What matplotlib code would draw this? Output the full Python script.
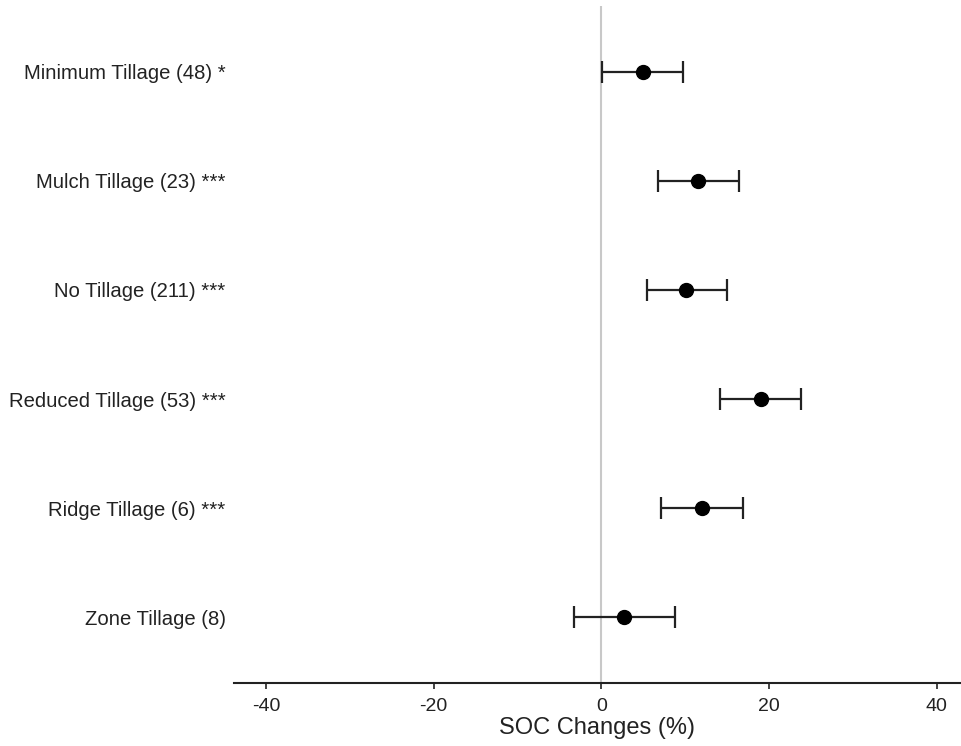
import matplotlib
matplotlib.use("Agg")
import matplotlib.pyplot as plt

plt.rcParams['font.family'] = ['Liberation Sans', 'DejaVu Sans']

# Tillage practices (number of observations and significance)
labels = [
    "Minimum Tillage (48) *",
    "Mulch Tillage (23) ***",
    "No Tillage (211) ***",
    "Reduced Tillage (53) ***",
    "Ridge Tillage (6) ***",
    "Zone Tillage (8)",
]
# Mean SOC change (%) with lower/upper confidence limits
mean = [5.0, 11.5, 10.1, 19.05, 12.0, 2.75]
lower = [0.1, 6.75, 5.45, 14.2, 7.15, -3.3]
upper = [9.8, 16.4, 14.95, 23.8, 16.95, 8.8]

ticks = [-40, -20, 0, 20, 40]

fig = plt.figure(figsize=(9.61, 7.46), dpi=100)
ax = fig.add_axes([234 / 961, 1 - 683 / 746, (960 - 234) / 961, (683 - 6) / 746])

n = len(labels)
ypos = list(range(n))
xerr = [[m - lo for m, lo in zip(mean, lower)], [hi - m for m, hi in zip(mean, upper)]]

ax.axvline(0, color="#c8c8c8", lw=1.5, zorder=1)
ax.errorbar(mean, ypos, xerr=xerr, fmt="o", color="black", ecolor="#222222",
            elinewidth=1.6, capsize=8, capthick=1.6, markersize=10, zorder=3)

ax.set_ylim(n - 1 + 0.6, -0.6)
ax.set_xlim(-43.8, 42.8)
ax.set_yticks(ypos)
ax.set_yticklabels(labels, fontsize=14.6, color="#222222")
ax.tick_params(axis="y", length=0, pad=6)
ax.set_xticks(ticks)
ax.set_xticklabels([str(t) for t in ticks], fontsize=14, color="#222222")
ax.tick_params(axis="x", length=4, width=1.2, color="#222222", pad=7)
ax.set_xlabel("SOC Changes (%)", fontsize=17, color="#222222", labelpad=1)

for s in ["left", "right", "top"]:
    ax.spines[s].set_visible(False)
ax.spines["bottom"].set_linewidth(1.5)
ax.spines["bottom"].set_color("#222222")

fig.savefig("out.png", dpi=100)
